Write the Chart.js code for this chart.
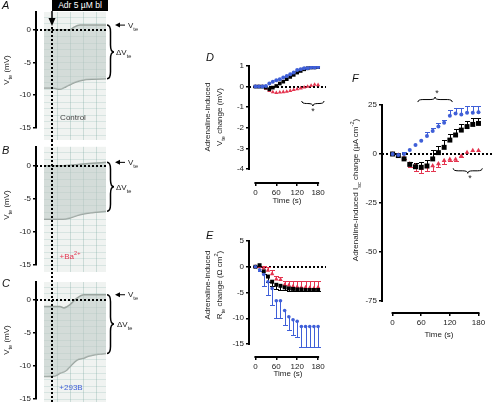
<!DOCTYPE html>
<html>
<head>
<meta charset="utf-8">
<title>Adrenaline-induced changes</title>
<script src="https://cdn.jsdelivr.net/npm/chart.js@4.4.1/dist/chart.umd.min.js"></script>
<style>
  html, body { margin:0; padding:0; background:#fff; }
  #fig { position:relative; width:496px; height:402px; overflow:hidden; font-family:"Liberation Sans", Arial, sans-serif; color:#222; }
  #fig canvas { position:absolute; }
  .t { position:absolute; white-space:nowrap; font-size:8px; line-height:1; }
  .rot { transform: translate(-50%,-50%) rotate(-90deg); text-align:center; }
  .ctr { transform: translate(-50%,-50%); }
  .lab { position:absolute; font-size:11px; font-style:italic; line-height:1; color:#111; }
  sub, sup { font-size:70%; line-height:0; }
</style>
</head>
<body>
<div id="fig">
  <canvas id="cA" width="170" height="140" style="left:0px;top:0px"></canvas>
  <canvas id="cB" width="170" height="132" style="left:0px;top:140px"></canvas>
  <canvas id="cC" width="170" height="140" style="left:0px;top:272px"></canvas>
  <canvas id="cD" width="130" height="160" style="left:200px;top:50px"></canvas>
  <canvas id="cE" width="130" height="160" style="left:200px;top:225px"></canvas>
  <canvas id="cF" width="166" height="290" style="left:330px;top:60px"></canvas>

  <div class="lab" style="left:2px;top:0px">A</div>
  <div class="lab" style="left:2px;top:145px">B</div>
  <div class="lab" style="left:2px;top:278px">C</div>
  <div class="lab" style="left:206px;top:52px">D</div>
  <div class="lab" style="left:206px;top:230px">E</div>
  <div class="lab" style="left:352px;top:73px">F</div>

  <div class="t" style="left:52px;top:0px;width:56px;height:11px;background:#000;color:#fff;font-size:8.5px;line-height:11px;text-align:center;">Adr 5 µM bl</div>

  <div class="t rot" style="left:7px;top:70px">V<sub>te</sub> (mV)</div>
  <div class="t rot" style="left:7px;top:205px">V<sub>te</sub> (mV)</div>
  <div class="t rot" style="left:7px;top:340px">V<sub>te</sub> (mV)</div>

  <div class="t" style="left:128px;top:22px">V<sub>te</sub></div>
  <div class="t" style="left:116px;top:49px">ΔV<sub>te</sub></div>
  <div class="t" style="left:128px;top:159px">V<sub>te</sub></div>
  <div class="t" style="left:116px;top:184px">ΔV<sub>te</sub></div>
  <div class="t" style="left:128px;top:291px">V<sub>te</sub></div>
  <div class="t" style="left:117px;top:321px">ΔV<sub>te</sub></div>

  <div class="t ctr" style="left:73px;top:118px;color:#444">Control</div>
  <div class="t ctr" style="left:70px;top:257px;color:#e4344f">+Ba<sup>2+</sup></div>
  <div class="t ctr" style="left:71px;top:388px;color:#3f5fd8">+293B</div>

  <div class="t rot" style="left:214px;top:117px;line-height:12px">Adrenaline-induced<br>V<sub>te</sub> change (mV)</div>
  <div class="t rot" style="left:214px;top:285px;line-height:12px">Adrenaline-induced<br>R<sub>te</sub> change (Ω cm<sup>2</sup>)</div>
  <div class="t rot" style="left:356px;top:190px">Adrenaline-induced I<sub>sc</sub> change (µA cm<sup>-2</sup>)</div>

  <div class="t ctr" style="left:287px;top:201px">Time (s)</div>
  <div class="t ctr" style="left:288px;top:374px">Time (s)</div>
  <div class="t ctr" style="left:439px;top:335px">Time (s)</div>

  <div class="t ctr" style="left:313px;top:111px;font-size:9px">*</div>
  <div class="t ctr" style="left:437px;top:93px;font-size:9px">*</div>
  <div class="t ctr" style="left:470px;top:178px;font-size:9px">*</div>
</div>

<script>
// ---------- Data: chart-recorder traces (A-C), x in recorder units ----------
const adrenalineTime = 8;
const paperEnd = 62;
const traceTicks = [-15, -10, -5, 0];

const traceTimeA = [0, 9, 16, 22, 26, 30, 36, 42, 62];
const traceTopA = [0, 0, 0, 0, 0, 0.4, 0.7, 0.7, 0.7];
const traceBottomA = [-8.9, -8.9, -9.1, -8.7, -8.4, -8.1, -7.8, -7.6, -7.5];

const traceTimeB = [0, 19, 26, 36, 48, 62];
const traceTopB = [0, 0, 0.05, 0.2, 0.35, 0.5];
const traceBottomB = [-8.1, -8.1, -7.9, -7.4, -7.1, -6.9];

const traceTimeC = [0, 11, 14, 16, 20, 23, 26, 33, 40, 43, 56, 62];
const traceTopC = [-1.0, -1.0, -1.0, -1.0, -1.2, -1.0, -0.7, 0.3, 0.8, 0.8, 0.8, 0.8];
const traceBottomC = [-11.6, -11.5, -11.3, -11.1, -10.9, -10.6, -10.1, -9.1, -8.8, -8.6, -8.2, -8.1];

// ---------- Data: summary panels ----------
const timeTicks = [0, 60, 120, 180];
const timeD = [0, 10, 20, 30, 40, 50, 60, 70, 80, 90, 100, 110, 120, 130, 140, 150, 160, 170, 180];
const vte293B   = [0, 0, 0, 0.03, 0.15, 0.24, 0.31, 0.36, 0.44, 0.52, 0.60, 0.68, 0.80, 0.84, 0.89, 0.89, 0.93, 0.93, 0.95];
const vteControl = [0, 0, 0, -0.05, -0.13, -0.05, 0.03, 0.15, 0.24, 0.36, 0.47, 0.57, 0.68, 0.76, 0.84, 0.89, 0.93, 0.93, 0.95];
const vteBa     = [0, 0, 0, -0.1, -0.2, -0.27, -0.3, -0.28, -0.26, -0.24, -0.2, -0.16, -0.12, -0.08, -0.04, 0, 0.05, 0.1, 0.08];
const vteTicks = [-4, -3, -2, -1, 0, 1];

const timeEF = [0, 12, 24, 36, 48, 60, 72, 84, 96, 108, 120, 132, 144, 156, 168, 180];
const rteControl    = [0, 0.3, -0.9, -1.9, -2.9, -3.5, -3.7, -4.0, -4.2, -4.3, -4.4, -4.4, -4.5, -4.5, -4.5, -4.5];
const rteControlLow = [0, 0.3, -1.5, -2.9, -3.8, -4.3, -4.5, -4.6, -4.7, -4.7, -4.8, -4.8, -4.8, -4.8, -4.8, -4.8];
const rteBa         = [0, 0, -0.3, -0.7, -1.4, -2.4, -2.5, -3.5, -3.6, -3.8, -3.9, -4.0, -4.0, -4.1, -4.2, -4.0];
const rteBaHigh     = [0, 0, 0.2, 0, -0.6, -1.8, -1.9, -2.7, -2.8, -2.8, -2.8, -2.8, -2.8, -2.8, -2.8, -2.8];
const rte293B       = [0, -0.6, -1.5, -2.9, -4.2, -6.6, -6.6, -8.5, -9.7, -10.3, -10.6, -11.6, -11.6, -11.6, -11.6, -11.6];
const rte293BLow    = [0, -0.9, -3.8, -5.5, -7.4, -10, -10, -11.3, -12.3, -13.2, -13.7, -15.5, -15.5, -15.5, -15.5, -15.5];
const rteTicks = [-15, -10, -5, 0, 5];

const isc293B        = [0, -0.5, 0, 2, 4.6, 6.8, 9.2, 11.7, 14, 16, 19.5, 20.6, 20.2, 21, 21, 21.3];
const isc293BHigh    = [0, 0, 1, 2.8, 5.4, 7.6, 11, 13.2, 15.8, 17.5, 22.5, 23.5, 23.5, 24.5, 24.5, 24.5];
const iscControl     = [0, -0.8, -2.5, -5.3, -6.5, -6.8, -6.1, -2.5, 0.7, 3.4, 7.1, 9.7, 12.2, 14, 15.1, 15.6];
const iscControlHigh = [0, 0, -1.5, -4, -4.5, -3.9, -3.0, 2, 4.2, 7.1, 10.2, 12.6, 15.1, 16.8, 18.3, 18.6];
const iscBa          = [0, -0.5, -2.0, -5.0, -6.0, -7.3, -6.5, -6.0, -5.0, -3.4, -2.7, -2.7, -1.0, 0.8, 1.7, 1.7];
const iscBaLow       = [0, 0, -2.5, -6.5, -8.7, -9.5, -8.7, -8.5, -6.8, -5.1, -3.5, -3.5, -1.5, 0.5, 1.5, 1.5];
const iscTicks = [-75, -50, -25, 0, 25];

// ---------- Styles ----------
const BLUE = '#3f5fd8', RED = '#e4344f', BLACK = '#000000';
Chart.defaults.font.family = '"Liberation Sans", Arial, sans-serif';
Chart.defaults.font.size = 8;
Chart.defaults.color = '#222';

function pts(xs, ys) { return xs.map((x, i) => ({ x: x, y: ys[i] })); }
function setTicks(list) { return s => { s.ticks = list.map(v => ({ value: v })); }; }

function braceH(ctx, x0, x1, y, dir, h) {
  const xm = (x0 + x1) / 2, r = Math.min(h, (x1 - x0) / 4);
  ctx.beginPath();
  ctx.moveTo(x0, y);
  ctx.quadraticCurveTo(x0, y + dir * h / 2, x0 + r, y + dir * h / 2);
  ctx.lineTo(xm - r, y + dir * h / 2);
  ctx.quadraticCurveTo(xm, y + dir * h / 2, xm, y + dir * h);
  ctx.quadraticCurveTo(xm, y + dir * h / 2, xm + r, y + dir * h / 2);
  ctx.lineTo(x1 - r, y + dir * h / 2);
  ctx.quadraticCurveTo(x1, y + dir * h / 2, x1, y);
  ctx.stroke();
}
function braceV(ctx, x, y0, y1, h) {
  const ym = (y0 + y1) / 2, r = Math.min(h, (y1 - y0) / 4);
  ctx.beginPath();
  ctx.moveTo(x, y0);
  ctx.quadraticCurveTo(x + h / 2, y0, x + h / 2, y0 + r);
  ctx.lineTo(x + h / 2, ym - r);
  ctx.quadraticCurveTo(x + h / 2, ym, x + h, ym);
  ctx.quadraticCurveTo(x + h / 2, ym, x + h / 2, ym + r);
  ctx.lineTo(x + h / 2, y1 - r);
  ctx.quadraticCurveTo(x + h / 2, y1, x, y1);
  ctx.stroke();
}

// ---------- Trace panels ----------
function traceChart(id, time, top, bottom, yMax, padTop, padBottom, withArrow) {
  const plugin = {
    id: 'trace' + id,
    beforeDatasetsDraw(chart) {
      const { ctx, chartArea: ca, scales: { x, y } } = chart;
      const x0 = x.getPixelForValue(0), x1 = x.getPixelForValue(paperEnd), H = chart.height;
      ctx.save();
      ctx.fillStyle = '#f0f3f1';
      ctx.fillRect(x0, ca.top, x1 - x0, H - ca.top);
      ctx.lineWidth = 0.7;
      ctx.strokeStyle = 'rgba(120,175,165,0.3)';
      for (let v = Math.floor(y.max); v > -40; v--) {
        const py = Math.round(y.getPixelForValue(v)) + 0.5;
        if (py > H) break;
        if (py < ca.top) continue;
        ctx.beginPath(); ctx.moveTo(x0, py); ctx.lineTo(x1, py); ctx.stroke();
      }
      ctx.strokeStyle = 'rgba(120,165,160,0.45)';
      for (let v = 13; v < paperEnd; v += 13) {
        const px = Math.round(x.getPixelForValue(v)) + 0.5;
        ctx.beginPath(); ctx.moveTo(px, ca.top); ctx.lineTo(px, H); ctx.stroke();
      }
      ctx.restore();
    },
    afterDatasetsDraw(chart) {
      const { ctx, chartArea: ca, scales: { x, y } } = chart;
      const x1 = x.getPixelForValue(paperEnd), H = chart.height;
      const xa = Math.round(x.getPixelForValue(adrenalineTime));
      const y0 = Math.round(y.getPixelForValue(0));
      ctx.save();
      ctx.strokeStyle = '#000';
      ctx.lineWidth = 2;
      ctx.setLineDash([2, 2]);
      ctx.beginPath(); ctx.moveTo(ca.left, y0); ctx.lineTo(x1 + 2, y0); ctx.stroke();
      const vStart = withArrow ? 27 : 0;
      ctx.beginPath(); ctx.moveTo(xa, vStart); ctx.lineTo(xa, H); ctx.stroke();
      ctx.setLineDash([]);
      if (withArrow) {
        ctx.lineWidth = 1.5;
        ctx.beginPath(); ctx.moveTo(xa, 11); ctx.lineTo(xa, 20); ctx.stroke();
        ctx.fillStyle = '#000';
        ctx.beginPath(); ctx.moveTo(xa - 3.5, 18); ctx.lineTo(xa + 3.5, 18); ctx.lineTo(xa, 26); ctx.closePath(); ctx.fill();
      }
      const yt = y.getPixelForValue(top[top.length - 1]);
      const yb = y.getPixelForValue(bottom[bottom.length - 1]);
      ctx.lineWidth = 1.5;
      braceV(ctx, x1 + 1, yt, yb, 7);
      ctx.lineWidth = 1;
      ctx.beginPath(); ctx.moveTo(x1 + 19, yt); ctx.lineTo(x1 + 12, yt); ctx.stroke();
      ctx.fillStyle = '#000';
      ctx.beginPath(); ctx.moveTo(x1 + 9, yt); ctx.lineTo(x1 + 14, yt - 2.5); ctx.lineTo(x1 + 14, yt + 2.5); ctx.closePath(); ctx.fill();
      ctx.restore();
    }
  };
  return new Chart(document.getElementById(id), {
    type: 'line',
    data: {
      datasets: [
        { data: pts(time, top), borderColor: '#9aa49f', borderWidth: 1.5, pointRadius: 0, fill: '+1',
          backgroundColor: 'rgba(190,200,196,0.55)', cubicInterpolationMode: 'monotone' },
        { data: pts(time, bottom), borderColor: '#9aa49f', borderWidth: 1.5, pointRadius: 0, fill: false,
          cubicInterpolationMode: 'monotone' }
      ]
    },
    options: {
      responsive: false, animation: false, devicePixelRatio: 1,
      layout: { padding: { left: 0, right: 20, top: padTop, bottom: padBottom } },
      plugins: { legend: { display: false }, tooltip: { enabled: false } },
      scales: {
        x: { type: 'linear', display: false, min: -8, max: 106 },
        y: {
          type: 'linear', min: -15, max: yMax,
          afterFit: s => { s.width = 36; },
          afterBuildTicks: setTicks(traceTicks),
          grid: { drawOnChartArea: false, drawTicks: true, tickLength: 3, color: '#000', lineWidth: 1.5 },
          border: { display: true, color: '#000', width: 2 },
          ticks: { padding: 2, color: '#222', font: { size: 8 } }
        }
      }
    },
    plugins: [plugin]
  });
}

traceChart('cA', traceTimeA, traceTopA, traceBottomA, 2.7, 12, 12, true);
traceChart('cB', traceTimeB, traceTopB, traceBottomB, 2.85, 6, 7, false);
traceChart('cC', traceTimeC, traceTopC, traceBottomC, 2.73, 10, 13, false);

// ---------- Summary panels ----------
function summaryChart(id, cfg) {
  const plugin = {
    id: 'sum' + id,
    beforeDatasetsDraw(chart) {
      const { ctx, chartArea: ca, scales: { x, y } } = chart;
      ctx.save();
      const y0 = Math.round(y.getPixelForValue(0));
      ctx.strokeStyle = '#000'; ctx.lineWidth = 2; ctx.setLineDash([2, 2]);
      ctx.beginPath(); ctx.moveTo(ca.left, y0); ctx.lineTo(ca.right, y0); ctx.stroke();
      ctx.setLineDash([]);
      chart.data.datasets.forEach(ds => {
        if (!ds.errEnds) return;
        ctx.strokeStyle = ds.borderColor; ctx.lineWidth = 1;
        ds.data.forEach((p, i) => {
          const px = Math.round(x.getPixelForValue(p.x)) + 0.5;
          const py = y.getPixelForValue(p.y), pe = Math.round(y.getPixelForValue(ds.errEnds[i])) + 0.5;
          if (Math.abs(pe - py) < 1.5) return;
          ctx.beginPath();
          ctx.moveTo(px, py); ctx.lineTo(px, pe);
          ctx.moveTo(px - cfg.cap, pe); ctx.lineTo(px + cfg.cap, pe);
          ctx.stroke();
        });
      });
      ctx.restore();
    },
    afterDatasetsDraw(chart) {
      const { ctx, chartArea: ca, scales: { x, y } } = chart;
      ctx.save();
      ctx.strokeStyle = '#000'; ctx.lineWidth = 2;
      const lx = Math.round(ca.left);
      ctx.beginPath();
      ctx.moveTo(lx, y.getPixelForValue(cfg.yTicks[cfg.yTicks.length - 1]) - 1);
      ctx.lineTo(lx, y.getPixelForValue(cfg.yTicks[0]) + 1);
      ctx.stroke();
      const by = Math.round(ca.bottom);
      ctx.beginPath();
      ctx.moveTo(x.getPixelForValue(timeTicks[0]) - 1, by);
      ctx.lineTo(x.getPixelForValue(timeTicks[timeTicks.length - 1]) + 1, by);
      ctx.stroke();
      ctx.lineWidth = 1;
      (cfg.braces || []).forEach(b => {
        braceH(ctx, x.getPixelForValue(b.from), x.getPixelForValue(b.to), y.getPixelForValue(b.at), b.dir, 5);
      });
      ctx.restore();
    }
  };
  const ds = cfg.series.map(s => ({
    data: pts(s.time, s.values), errEnds: s.err || null, showLine: false,
    pointStyle: s.style, pointRadius: s.r, backgroundColor: s.color, borderColor: s.color, borderWidth: 0
  }));
  return new Chart(document.getElementById(id), {
    type: 'line',
    data: { datasets: ds },
    options: {
      responsive: false, animation: false, devicePixelRatio: 1,
      layout: { padding: cfg.pad },
      plugins: { legend: { display: false }, tooltip: { enabled: false } },
      scales: {
        x: {
          type: 'linear', min: cfg.xMin, max: cfg.xMax,
          afterFit: s => { s.height = 20; },
          afterBuildTicks: setTicks(timeTicks),
          grid: { drawOnChartArea: false, drawTicks: true, tickLength: 3, color: '#000', lineWidth: 1.5 },
          border: { display: false },
          ticks: { padding: 2, color: '#222', font: { size: 8 }, maxRotation: 0 }
        },
        y: {
          type: 'linear', min: cfg.yMin, max: cfg.yMax,
          afterFit: s => { s.width = cfg.yWidth; },
          afterBuildTicks: setTicks(cfg.yTicks),
          grid: { drawOnChartArea: false, drawTicks: true, tickLength: 3, color: '#000', lineWidth: 1.5 },
          border: { display: false },
          ticks: { padding: 2, color: '#222', font: { size: 8 } }
        }
      }
    },
    plugins: [plugin]
  });
}

summaryChart('cD', {
  pad: { left: 0, right: 3, top: 16, bottom: 7 }, yWidth: 49,
  xMin: -18.4, xMax: 202.7, yMin: -4.68, yMax: 1, yTicks: vteTicks, cap: 1.5,
  braces: [{ from: 133, to: 197, at: -0.7, dir: 1 }],
  series: [
    { time: timeD, values: vte293B, style: 'circle', r: 2, color: BLUE },
    { time: timeD, values: vteControl, style: 'rect', r: 2.6, color: BLACK },
    { time: timeD, values: vteBa, style: 'triangle', r: 2.4, color: RED }
  ]
});

summaryChart('cE', {
  pad: { left: 0, right: 3, top: 16, bottom: 8 }, yWidth: 49,
  xMin: -18.4, xMax: 202.7, yMin: -17.52, yMax: 5, yTicks: rteTicks, cap: 2.5,
  series: [
    { time: timeEF, values: rte293B, err: rte293BLow, style: 'circle', r: 1.8, color: BLUE },
    { time: timeEF, values: rteControl, err: rteControlLow, style: 'rect', r: 2.8, color: BLACK },
    { time: timeEF, values: rteBa, err: rteBaHigh, style: 'triangle', r: 2.6, color: RED }
  ]
});

summaryChart('cF', {
  pad: { left: 0, right: 0, top: 25, bottom: 17 }, yWidth: 52,
  xMin: -22.2, xMax: 208.3, yMin: -81.1, yMax: 35.2, yTicks: iscTicks, cap: 2.5,
  braces: [{ from: 53, to: 125, at: 26.5, dir: -1 }, { from: 127, to: 188, at: -7.3, dir: 1 }],
  series: [
    { time: timeEF, values: isc293B, err: isc293BHigh, style: 'circle', r: 2, color: BLUE },
    { time: timeEF, values: iscControl, err: iscControlHigh, style: 'rect', r: 3.5, color: BLACK },
    { time: timeEF, values: iscBa, err: iscBaLow, style: 'triangle', r: 2.8, color: RED }
  ]
});
</script>
</body>
</html>
